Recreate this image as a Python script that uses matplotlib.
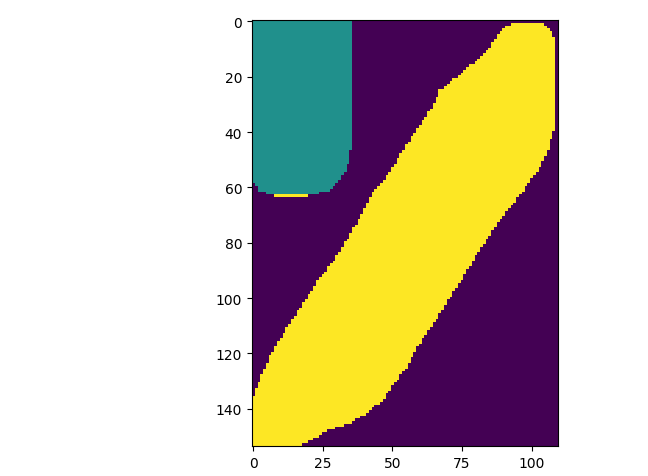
import numpy as np
import matplotlib
matplotlib.use("Agg")
import matplotlib.pyplot as plt
from matplotlib.path import Path

# label image size (rows, cols)
n_rows = 154
n_cols = 110

# label values
background = 0
blob_label = 1
band_label = 2

# outline of the diagonal band (x, y)
band_x = [-0.5, -0.5, 1.4, 6, 13.3, 23, 30, 37.4, 43, 48, 53, 63.7, 67, 74.5, 78, 83,
          88, 91.5, 94, 103, 106.5, 108.5, 108.6, 108.6, 106, 102, 98.6, 94, 90, 81.7,
          74.5, 68, 60, 54.7, 49, 47, 40, 35, 26.6, 17]
band_y = [153.5, 137, 131.7, 121, 108.7, 94, 84.8, 72.6, 61.7, 56, 48, 31.8, 25, 19, 16, 12,
          5, 1.5, 0.3, 0.3, 2.5, 7, 20, 38, 46, 54, 59, 65, 70, 82,
          94, 104, 116, 125.6, 133, 136.5, 142, 145, 148, 153.5]

# outline of the blob in the top-left corner
blob_x = [-0.5, 35.5, 35.6, 35.6, 35.3, 34.5, 33, 30.5, 27, 22, 6, 2, -0.5]
blob_y = [-0.5, -0.5, 15, 30, 45, 50, 54, 58, 61, 62.6, 62.6, 61, 58]

# thin strip under the blob
strip_row = 63
strip_cols = (8, 19)


def make_mask(xs, ys, shape):
    '''
    Build a boolean mask of the pixels inside a polygon.
    '''
    rr, cc = np.mgrid[0:shape[0], 0:shape[1]]
    pts = np.column_stack([cc.ravel(), rr.ravel()])
    path = Path(np.column_stack([xs, ys]))
    return path.contains_points(pts).reshape(shape)


img = np.full((n_rows, n_cols), background)
img[make_mask(blob_x, blob_y, img.shape)] = blob_label
img[strip_row, strip_cols[0]:strip_cols[1] + 1] = band_label
img[make_mask(band_x, band_y, img.shape)] = band_label

fig = plt.figure(figsize=(6.48, 4.77), dpi=100)
ax = fig.add_axes([252 / 648, 30 / 477, 306 / 648, 426 / 477])
ax.imshow(img, cmap="viridis", vmin=0, vmax=2, interpolation="nearest", aspect="auto")
ax.set_xticks([0, 25, 50, 75, 100])
ax.set_yticks([0, 20, 40, 60, 80, 100, 120, 140])
ax.tick_params(labelsize=10)

fig.savefig("out.png", dpi=100)
